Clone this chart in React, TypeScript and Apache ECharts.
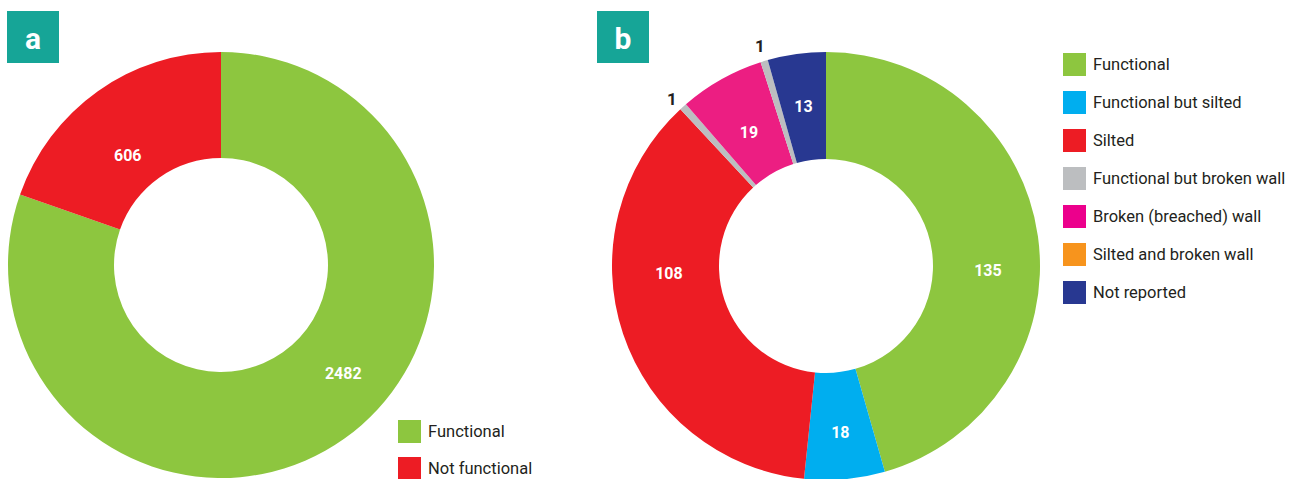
import React, { useEffect, useRef } from "react";
import * as echarts from "echarts";

const panelACategories = ["Functional", "Not functional"];
const panelAValues = [2482, 606];
const panelAColors = ["#8dc63f", "#ed1c24"];

const panelBCategories = [
  "Functional",
  "Functional but silted",
  "Silted",
  "Functional but broken wall",
  "Broken (breached) wall",
  "Silted and broken wall",
  "Not reported",
];
const panelBValues = [135, 18, 108, 1, 19, 1, 13];
// slice colours as drawn in the reference (the "Silted and broken wall" slice appears grey)
const panelBSliceColors = ["#8dc63f", "#00aeef", "#ed1c24", "#bcbec0", "#ec1e82", "#bcbec0", "#283891"];
// legend swatch colours
const panelBLegendColors = ["#8dc63f", "#00aeef", "#ed1c24", "#bcbec0", "#ec008c", "#f7941d", "#283891"];

// cosmetic label nudges (px) to mimic the reference's label placement
const panelALabelNudge = [
  [28, -24],
  [1, 23],
];
const panelBLabelNudge = [
  [0, 27],
  [0, 4],
  [-2, -44],
  [4, -2],
  [3, 9],
  [8, -7],
  [0, 2],
];

const FONT = "Roboto, 'Noto Sans', sans-serif";
const TEAL = "#16a597";

export default function App() {
  const ref = useRef<HTMLDivElement>(null);
  useEffect(() => {
    document.body.style.margin = "0";
    const chart = echarts.init(ref.current!, null, { renderer: "svg" });
    const insideLabel = {
      show: true,
      position: "inside",
      formatter: "{c}",
      color: "#ffffff",
      fontFamily: FONT,
      fontWeight: "bold",
      fontSize: 16,
    };
    const outsideLabel = {
      show: true,
      position: "outside",
      formatter: "{c}",
      color: "#231f20",
      fontFamily: FONT,
      fontWeight: "bold",
      fontSize: 17,
    };
    const legendText = { fontFamily: FONT, fontSize: 16.5, color: "#231f20", padding: [0, 0, 0, 2] };
    const nudge = (arr: number[][]) => (p: any) => {
      const d = arr[p.dataIndex] || [0, 0];
      return { dx: d[0], dy: d[1] };
    };
    chart.setOption({
      animation: false,
      legend: [
        {
          orient: "vertical",
          left: 398,
          top: 420,
          height: 70,
          padding: 0,
          itemWidth: 23,
          itemHeight: 23,
          itemGap: 14,
          icon: "rect",
          selectedMode: false,
          textStyle: legendText,
          data: panelACategories.map((n, i) => ({ name: n, itemStyle: { color: panelAColors[i] } })),
        },
        {
          orient: "vertical",
          left: 1063,
          top: 53,
          padding: 0,
          itemWidth: 23,
          itemHeight: 23,
          itemGap: 15,
          icon: "rect",
          selectedMode: false,
          textStyle: legendText,
          data: panelBCategories.map((n, i) => ({ name: n, itemStyle: { color: panelBLegendColors[i] } })),
        },
      ],
      graphic: [
        {
          type: "group",
          left: 7,
          top: 11,
          children: [
            { type: "rect", shape: { x: 0, y: 0, width: 52, height: 52 }, style: { fill: TEAL } },
            {
              type: "text",
              x: 26,
              y: 27,
              style: { text: "a", fill: "#fff", font: `bold 30px ${FONT}`, align: "center", verticalAlign: "middle" },
            },
          ],
        },
        {
          type: "group",
          left: 597,
          top: 11,
          children: [
            { type: "rect", shape: { x: 0, y: 0, width: 52, height: 52 }, style: { fill: TEAL } },
            {
              type: "text",
              x: 26,
              y: 27,
              style: { text: "b", fill: "#fff", font: `bold 30px ${FONT}`, align: "center", verticalAlign: "middle" },
            },
          ],
        },
      ],
      series: [
        {
          type: "pie",
          center: [221, 265],
          radius: [107, 213],
          startAngle: 90,
          clockwise: true,
          avoidLabelOverlap: false,
          silent: true,
          itemStyle: { borderWidth: 0 },
          label: insideLabel,
          labelLine: { show: false },
          labelLayout: nudge(panelALabelNudge),
          data: panelACategories.map((n, i) => ({
            name: n,
            value: panelAValues[i],
            itemStyle: { color: panelAColors[i] },
          })),
        },
        {
          type: "pie",
          center: [826, 266],
          radius: [107, 214],
          startAngle: 90,
          clockwise: true,
          minAngle: 2,
          avoidLabelOverlap: false,
          silent: true,
          itemStyle: { borderWidth: 0 },
          label: insideLabel,
          labelLine: { show: false, length: 8, length2: 0 },
          labelLayout: nudge(panelBLabelNudge),
          data: panelBCategories.map((n, i) => ({
            name: n,
            value: panelBValues[i],
            itemStyle: { color: panelBSliceColors[i] },
            label: panelBValues[i] <= 1 ? outsideLabel : insideLabel,
          })),
        },
      ],
    });
    return () => chart.dispose();
  }, []);
  return <div ref={ref} style={{ width: 1296, height: 479 }} />;
}
